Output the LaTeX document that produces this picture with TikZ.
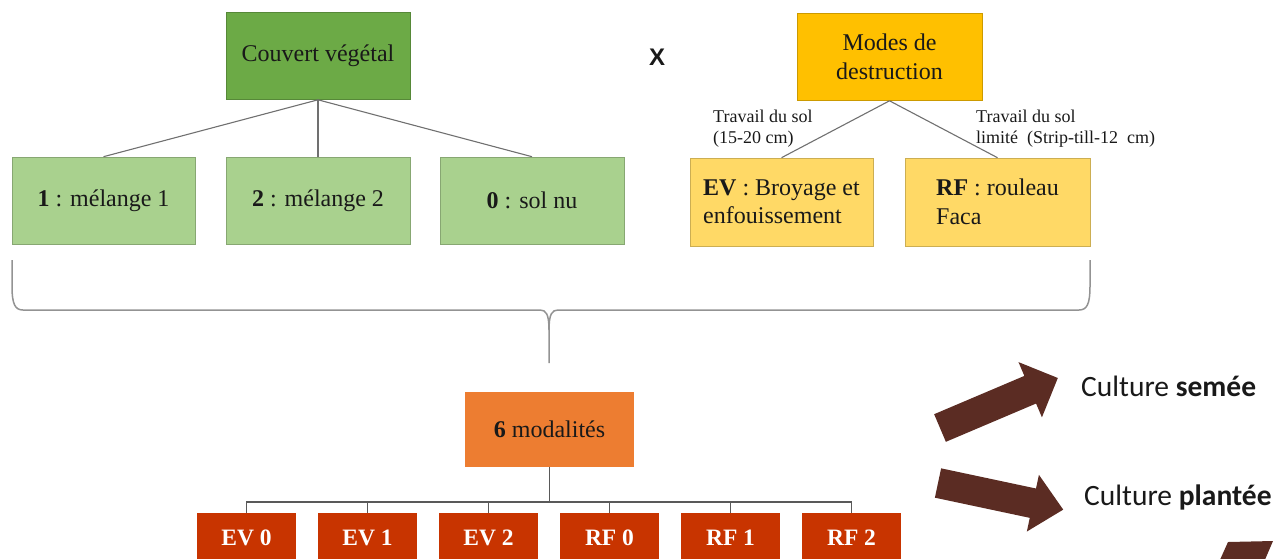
\documentclass[tikz,border=0pt]{standalone}
\usepackage{fontspec}
\setmainfont{Liberation Serif}
\newfontfamily\culturefont{Carlito}
\newfontfamily\crossfont{Liberation Sans}
\usetikzlibrary{positioning}

\definecolor{couvertgreen}{RGB}{108,170,70}
\definecolor{mixgreen}{RGB}{169,209,142}
\definecolor{modegold}{RGB}{255,192,0}
\definecolor{destgold}{RGB}{255,217,102}
\definecolor{modalorange}{RGB}{237,125,49}
\definecolor{combred}{RGB}{200,52,0}
\definecolor{arrowbrown}{RGB}{91,44,35}
\definecolor{linegray}{RGB}{112,112,112}

\begin{document}
\begin{tikzpicture}[
    x=1pt, y=-1pt,
    every node/.style={font=\fontsize{24}{28.5}\selectfont, text=black!90},
    % Stijlen
    box/.style={draw=#1!80!black, fill=#1, line width=0.6pt, inner sep=0pt,
      minimum width=184pt, minimum height=87pt},
    combbox/.style={fill=combred, inner sep=0pt, minimum width=99pt,
      minimum height=50pt, text=white, font=\fontsize{23.5}{28}\selectfont\bfseries},
    tree/.style={draw=linegray, line width=1.1pt},
    brace/.style={draw=gray!85, line width=1.5pt},
    soltext/.style={align=left, inner sep=0pt, font=\fontsize{18}{21}\selectfont},
    culture/.style={inner sep=0pt, font=\culturefont\fontsize{29.5}{34}\selectfont},
    blockarrow/.style={fill=arrowbrown}
  ]

  \useasboundingbox (0,0) rectangle (1277,558);
  \clip (0,0) rectangle (1277,558);

  % --- Couvert vegetal ---
  \node[box=couvertgreen] (cv) at (318,56) {Couvert végétal};
  \node[box=mixgreen, minimum width=183pt] (mix1) at (103.5,200.5) {\textbf{1} : mélange 1};
  \node[box=mixgreen] (mix2) at (318,200.5) {\textbf{2} : mélange 2};
  \node[box=mixgreen] (mix0) at (532,200.5) {\textbf{0} : sol nu};

  \draw[tree] (cv.south) -- (mix1.north);
  \draw[tree] (cv.south) -- (mix2.north);
  \draw[tree] (cv.south) -- (mix0.north);

  \node[font=\crossfont\bfseries\fontsize{24}{28}\selectfont] (cross) at (657,57) {X};

  % --- Modes de destruction ---
  \node[box=modegold, minimum width=185pt, align=center] (md) at (889.5,57) {Modes de\\destruction};
  \node[box=destgold, minimum width=183pt, minimum height=88pt, align=left] (ev) at (781.5,202) {\textbf{EV} : Broyage et\\enfouissement};
  \node[box=destgold, minimum width=185pt, minimum height=88pt, align=left] (rf) at (997.5,202) {\textbf{RF} : rouleau\\Faca};

  \draw[tree] (md.south) -- (ev.north);
  \draw[tree] (md.south) -- (rf.north);

  \node[soltext, anchor=north west] (solev) at (713,110) {Travail du sol\\(15-20 cm)};
  \node[soltext, anchor=north west] (solrf) at (976,110) {Travail du sol\\limité \ (Strip-till-12 \ cm)};

  % --- Accolade ---
  \draw[brace] (12,260) -- (12,286) .. controls (12,304) and (15,310) .. (23,310)
    -- (540,310) .. controls (546,310) and (549,314) .. (549,330) -- (549,363);
  \draw[brace] (1090,260) -- (1090,286) .. controls (1090,304) and (1087,310) .. (1079,310)
    -- (558,310) .. controls (552,310) and (549,314) .. (549,330);

  % --- 6 modalites ---
  \node[box=modalorange, draw=none, minimum width=169pt, minimum height=75pt] (mod) at (549.5,429.5) {\textbf{6} modalités};
  \coordinate (bus) at (549.5,502);
  \draw[tree, draw=black!65] (mod.south) -- (bus);

  \foreach \name/\lab [count=\i from 0] in {ev0/EV 0, ev1/EV 1, ev2/EV 2, rf0/RF 0, rf1/RF 1, rf2/RF 2}{
    \node[combbox] (\name) at ({246.5+121*\i},538) {\lab};
    \draw[tree, draw=black!65] (bus) -| (\name.north);
  }

  % --- Cultures ---
  \fill[blockarrow, shift={(940,428)}, rotate=23]
    (0,-15) -- (98,-15) -- (98,-30) -- (128,0) -- (98,30) -- (98,15) -- (0,15) -- cycle;
  \fill[blockarrow, shift={(938,483)}, rotate=-12]
    (0,-15) -- (97,-15) -- (97,-29) -- (128,0) -- (97,29) -- (97,15) -- (0,15) -- cycle;
  \fill[blockarrow] (1219,562) -- (1228,542) -- (1273,541) -- (1264,562) -- cycle;

  \node[culture, anchor=west] (semee) at (1081,386) {Culture \textbf{semée}};
  \node[culture, anchor=west] (plantee) at (1084,497) {Culture \textbf{plantée}};

\end{tikzpicture}
\end{document}
